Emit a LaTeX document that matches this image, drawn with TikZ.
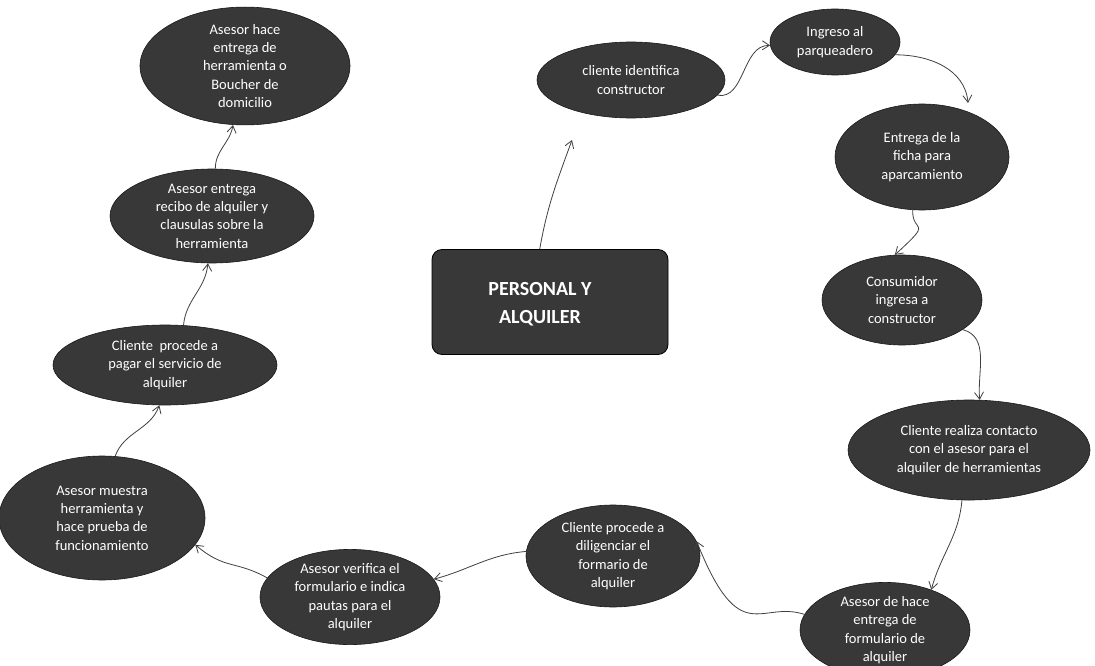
\documentclass[tikz,border=0pt]{standalone}
\usepackage{fontspec}
\setmainfont{Carlito}
\usetikzlibrary{shapes.geometric,arrows.meta}
\definecolor{bubble}{HTML}{383838}
\tikzset{
  ell/.style={ellipse, fill=bubble, draw=black!90, line width=0.6pt,
    text=white, align=center, inner sep=0pt,
    font=\fontsize{14.5}{18.3}\selectfont},
  hub/.style={rectangle, rounded corners=10pt, fill=bubble, draw=black,
    line width=0.8pt},
  hubtext/.style={text=white, align=center, inner sep=0pt,
    font=\fontsize{20}{28}\selectfont\bfseries},
  link/.style={draw=black!75, line width=0.8pt,
    -{Straight Barb[length=7pt,width=9pt]}}
}
\begin{document}
\begin{tikzpicture}[x=1pt,y=-1pt]
\path[use as bounding box, fill=white] (0,0) rectangle (1095,666);

% central box and its title
\node[hub, minimum width=236pt, minimum height=105pt] (hub) at (550,302) {};
\node[hubtext] (hubt) at (540,304) {PERSONAL Y\\ALQUILER};

% process bubbles, clockwise from the top
\node[ell, minimum width=188pt, minimum height=76pt] (e2) at (631,80)
  {cliente identifica\\constructor};
\node[ell, minimum width=130pt, minimum height=66pt] (e3) at (835,42)
  {Ingreso al\\parqueadero};
\node[ell, minimum width=174pt, minimum height=106pt] (e4) at (922,157)
  {Entrega de la\\ficha para\\aparcamiento};
\node[ell, minimum width=160pt, minimum height=90pt] (e5) at (902,300)
  {Consumidor\\ingresa a\\constructor};
\node[ell, minimum width=242pt, minimum height=100pt] (e6) at (969,450)
  {Cliente realiza contacto\\con el asesor para el\\alquiler de herramientas};
\node[ell, minimum width=170pt, minimum height=86pt] (e7) at (885,630)
  {Asesor de hace\\entrega de\\formulario de\\alquiler};
\node[ell, minimum width=174pt, minimum height=102pt] (e8) at (613,556)
  {Cliente procede a\\diligenciar el\\formario de\\alquiler};
\node[ell, minimum width=180pt, minimum height=84pt] (e9) at (350,597)
  {Asesor verifica el\\formulario e indica\\pautas para el\\alquiler};
\node[ell, minimum width=206pt, minimum height=124pt] (e10) at (102,518)
  {Asesor muestra\\herramienta y\\hace prueba de\\funcionamiento};
\node[ell, minimum width=224pt, minimum height=80pt] (e11) at (165,365)
  {Cliente\ \ procede a\\pagar el servicio de\\alquiler};
\node[ell, minimum width=204pt, minimum height=94pt] (e12) at (212,216)
  {Asesor entrega\\recibo de alquiler y\\clausulas sobre la\\herramienta};
\node[ell, minimum width=210pt, minimum height=104pt] (e1) at (245,66)
  {Asesor hace\\entrega de\\herramienta o\\Boucher de\\domicilio};

% loose arrow ends
\coordinate (t1) at (572,140);
\coordinate (t2) at (968,103);
\coordinate (t3) at (233,125);

% connectors
\draw[link] (hub.101) to[out=80, in=-110] (t1);
\draw[link] (e2.-10) .. controls (745,100) and (742,45) .. (e3.183);
\draw[link] (e3.-12) to[out=0, in=95] (t2);
\draw[link] (e4.-100) .. controls (912,235) and (935,218) .. (e5.99);
\draw[link] (e5.-26) to[out=-15, in=95] (e6.78);
\draw[link] (e6.-98) to[out=-95, in=75] (e7.41);
\draw[link] (e7.169) .. controls (760,600) and (740,650) .. (e8.10);
\draw[link] (e8.177) to[out=185, in=15] (e9.12);
\draw[link] (e9.167) .. controls (235,560) and (225,570) .. (e10.-16);
\draw[link] (e10.78) to[out=70, in=-110] (e11.-98);
\draw[link] (e11.65) to[out=85, in=-95] (e12.-95);
\draw[link] (e12.86) to[out=90, in=-100] (t3);
\end{tikzpicture}
\end{document}
